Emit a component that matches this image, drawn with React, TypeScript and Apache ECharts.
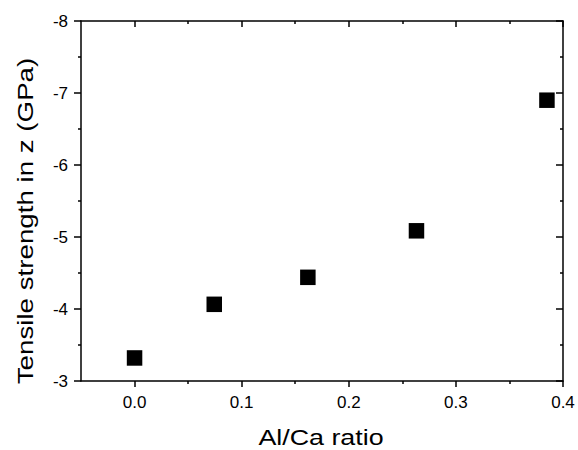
import React, { useEffect, useRef } from "react";
import * as echarts from "echarts";

const alCaRatio = [0.0, 0.0744, 0.1618, 0.2632, 0.385];
const tensileStrength = [-3.32, -4.065, -4.44, -5.086, -6.9];
const xMajorTicks = [0.0, 0.1, 0.2, 0.3, 0.4];
const xMinorTicks = [0.05, 0.15, 0.25, 0.35];
const xTitle = "Al/Ca ratio";
const yTitle = "Tensile strength in z (GPa)";

const FONT = "'Liberation Sans', Arial, sans-serif";
const LINE = { color: "#000", width: 1.5 };

export default function App() {
  const ref = useRef<HTMLDivElement>(null);
  useEffect(() => {
    if (!ref.current) return;
    const chart = echarts.init(ref.current, undefined, { renderer: "svg" });
    const xBase = { type: "value", min: -0.05, max: 0.4, splitLine: { show: false } };
    const yBase = {
      type: "value",
      min: -8,
      max: -3,
      interval: 1,
      inverse: true,
      splitLine: { show: false },
      minorSplitLine: { show: false },
    };
    chart.setOption({
      animation: false,
      backgroundColor: "#fff",
      grid: { left: 81, right: 15, top: 21, bottom: 69, containLabel: false, outerBoundsMode: "none" },
      xAxis: [
        {
          ...xBase,
          position: "bottom",
          axisLine: { show: true, onZero: false, lineStyle: LINE },
          axisTick: { show: true, inside: false, length: 6, customValues: xMajorTicks, lineStyle: LINE },
          axisLabel: {
            show: true,
            customValues: xMajorTicks,
            formatter: (v: number) => v.toFixed(1),
            fontSize: 17,
            margin: 13,
            color: "#000",
            fontFamily: FONT,
          },
        },
        {
          ...xBase,
          position: "bottom",
          axisLine: { show: false, onZero: false },
          axisTick: { show: true, inside: false, length: 3, customValues: xMinorTicks, lineStyle: LINE },
          axisLabel: { show: false },
        },
        {
          ...xBase,
          position: "top",
          axisLine: { show: true, onZero: false, lineStyle: LINE },
          axisTick: { show: true, inside: true, length: 6, customValues: xMajorTicks, lineStyle: LINE },
          axisLabel: { show: false },
        },
        {
          ...xBase,
          position: "top",
          axisLine: { show: false, onZero: false },
          axisTick: { show: true, inside: true, length: 3, customValues: xMinorTicks, lineStyle: LINE },
          axisLabel: { show: false },
        },
      ],
      yAxis: [
        {
          ...yBase,
          position: "left",
          axisLine: { show: true, onZero: false, lineStyle: LINE },
          axisTick: { show: true, inside: false, length: 7, lineStyle: LINE },
          minorTick: { show: true, splitNumber: 2, length: 3, lineStyle: LINE },
          axisLabel: { show: true, fontSize: 17, margin: 13, color: "#000", fontFamily: FONT },
        },
        {
          ...yBase,
          position: "right",
          axisLine: { show: true, onZero: false, lineStyle: LINE },
          axisTick: { show: true, inside: true, length: 7, lineStyle: LINE },
          minorTick: { show: true, splitNumber: 2, length: 3, lineStyle: LINE },
          axisLabel: { show: false },
        },
      ],
      series: [
        {
          type: "scatter",
          xAxisIndex: 0,
          yAxisIndex: 0,
          symbol: "rect",
          symbolSize: 15.5,
          itemStyle: { color: "#000", opacity: 1 },
          emphasis: { disabled: true },
          data: alCaRatio.map((x, i) => [x, tensileStrength[i]]),
        },
      ],
      graphic: [
        {
          type: "text",
          x: 321,
          y: 437.4,
          scaleX: 1.22,
          style: {
            text: xTitle,
            fontSize: 22,
            fontFamily: FONT,
            fill: "#000",
            align: "center",
            verticalAlign: "middle",
          },
        },
        {
          type: "text",
          x: 24.7,
          y: 221,
          rotation: Math.PI / 2,
          scaleX: 1.26,
          style: {
            text: yTitle,
            fontSize: 22,
            fontFamily: FONT,
            fill: "#000",
            align: "center",
            verticalAlign: "middle",
          },
        },
      ],
    });
    return () => chart.dispose();
  }, []);
  return (
    <div
      ref={ref}
      style={{ position: "fixed", left: 0, top: 0, width: 578, height: 450, background: "#fff" }}
    />
  );
}
